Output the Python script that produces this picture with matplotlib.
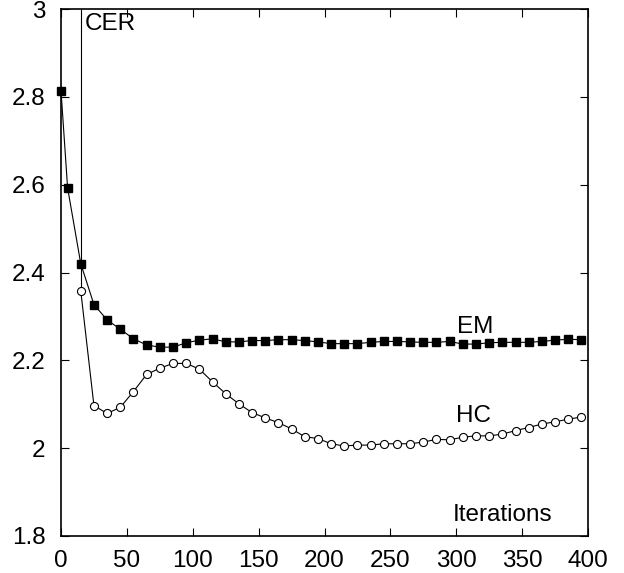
import matplotlib
matplotlib.use('Agg')
import matplotlib.pyplot as plt
from matplotlib.ticker import FuncFormatter

# iterations at which both curves were sampled
em_x = [0, 5] + list(range(15, 400, 10))
em_y = [2.814, 2.593, 2.420, 2.327, 2.292, 2.271, 2.249, 2.235, 2.230, 2.230,
        2.240, 2.246, 2.249, 2.242, 2.242, 2.245, 2.245, 2.247, 2.247, 2.245,
        2.242, 2.238, 2.238, 2.238, 2.241, 2.243, 2.243, 2.242, 2.241, 2.241,
        2.243, 2.237, 2.237, 2.240, 2.241, 2.241, 2.241, 2.243, 2.246, 2.248,
        2.247]

hc_x = list(range(15, 400, 10))
hc_y = [2.358, 2.097, 2.079, 2.093, 2.129, 2.168, 2.182, 2.193, 2.193, 2.180,
        2.151, 2.124, 2.101, 2.081, 2.069, 2.058, 2.044, 2.026, 2.022, 2.010,
        2.005, 2.007, 2.007, 2.010, 2.010, 2.010, 2.014, 2.020, 2.019, 2.025,
        2.028, 2.028, 2.032, 2.040, 2.047, 2.055, 2.060, 2.066, 2.071]

# CER shoots far above the plotted range
cer_x = [15, 15]
cer_y = [2.358, 3.5]

x_ticks = [0, 50, 100, 150, 200, 250, 300, 350, 400]
y_ticks = [1.8, 2.0, 2.2, 2.4, 2.6, 2.8, 3.0]

plt.rcParams['font.family'] = ['Liberation Sans', 'DejaVu Sans']
plt.rcParams['font.size'] = 17.5

fig = plt.figure(figsize=(6.24, 5.73), dpi=100)
ax = fig.add_axes([61 / 624, 37 / 573, 527 / 624, 527 / 573])

ax.plot(cer_x, cer_y, color='black', linewidth=0.8)
ax.plot(em_x, em_y, color='black', linewidth=0.8, marker='s',
        markersize=5.2, markerfacecolor='black', markeredgecolor='black',
        clip_on=False, zorder=3)
ax.plot(hc_x, hc_y, color='black', linewidth=0.8, marker='o',
        markersize=5.8, markerfacecolor='white', markeredgecolor='black',
        markeredgewidth=0.8, clip_on=False, zorder=3)

ax.text(18, 2.965, 'CER', ha='left', va='center')
ax.text(314, 2.276, 'EM', ha='center', va='center')
ax.text(313, 2.073, 'HC', ha='center', va='center')
ax.text(335, 1.848, 'Iterations', ha='center', va='center')

ax.set_xlim(0, 400)
ax.set_ylim(1.8, 3.0)
ax.set_xticks(x_ticks)
ax.set_yticks(y_ticks)
ax.yaxis.set_major_formatter(FuncFormatter(lambda v, p: '%g' % round(v, 2)))
ax.tick_params(direction='in', length=6, width=0.8, top=True, right=True)
ax.tick_params(axis='x', pad=10)
ax.tick_params(axis='y', pad=11)
for s in ax.spines.values():
    s.set_linewidth(1.2)

fig.savefig('out.png', dpi=100)
